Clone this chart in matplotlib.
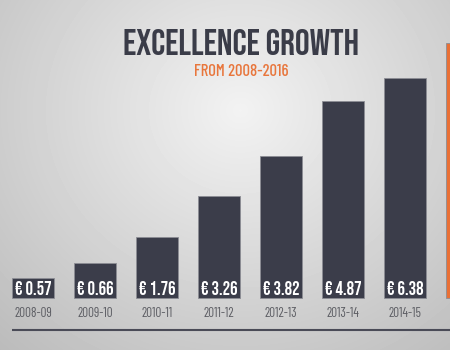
import numpy as np
import matplotlib.pyplot as plt
from matplotlib import font_manager

# data
periods = ['2008-09', '2009-10', '2010-11', '2011-12', '2012-13', '2013-14', '2014-15', '2015-16']
value_labels = ['€ 0.57', '€ 0.66', '€ 1.76', '€ 3.26', '€ 3.82', '€ 4.87', '€ 6.38', '']
bar_heights = [0.58, 1.02, 1.77, 2.96, 4.12, 5.71, 6.38, 7.40]

dark = '#3b3d4a'
orange = '#ea7035'

# pick condensed faces if they are there
have = set(f.name for f in font_manager.fontManager.ttflist)
bold_faces = [n for n in ['Bebas Neue', 'Oswald', 'Barlow Condensed'] if n in have] + ['DejaVu Sans']
thin_faces = [n for n in ['Barlow Condensed', 'Oswald', 'Bebas Neue'] if n in have] + ['DejaVu Sans']

fig = plt.figure(figsize=(4.5, 3.5), dpi=100)

# grey radial background
bg = fig.add_axes([0, 0, 1, 1], zorder=-1)
yy, xx = np.mgrid[0:350, 0:450]
r = np.sqrt(((xx - 240) / 330.0) ** 2 + ((yy - 110) / 300.0) ** 2)
shade = 0.95 - 0.2 * np.clip(r, 0, 1.3)
bg.imshow(shade, cmap='gray', vmin=0, vmax=1, aspect='auto', extent=[0, 450, 350, 0])
bg.axis('off')

ax = fig.add_axes([0, 0, 1, 1])
ax.axis('off')
ax.set_xlim(-0.532, 6.726)
ax.set_ylim(-1.508, 8.643)

x = np.arange(len(periods))
colors = [dark] * 7 + [orange]
ax.bar(x, bar_heights, width=0.68, color=colors, edgecolor='#8c8d94', linewidth=0.6)

for i in range(7):
    ax.text(x[i], 0.29, value_labels[i], ha='center', va='center', color='white',
            fontsize=13.5, family=bold_faces)
    ax.text(x[i], -0.44, periods[i], ha='center', va='center', color='#5c5d63',
            fontsize=9.5, fontweight='normal', family=thin_faces)

# baseline under the labels
ax.plot([-0.34, 6.726], [-0.93, -0.93], color='#4a4b57', lw=1.5, solid_capstyle='butt')

fig.text(241 / 450, 1 - 42 / 350, 'EXCELLENCE GROWTH', ha='center', va='center',
         fontsize=26.5, color='#3a3c48', family=bold_faces)
fig.text(241 / 450, 1 - 71.5 / 350, 'FROM 2008-2016', ha='center', va='center',
         fontsize=12, fontweight='medium', color='#e8763c', family=thin_faces)

fig.savefig('out.png', dpi=100)
